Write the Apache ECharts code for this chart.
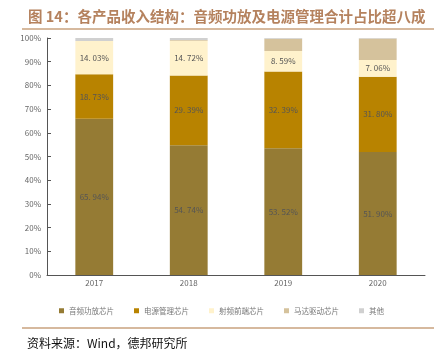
<!DOCTYPE html>
<html><head><meta charset="utf-8">
<script src="https://cdn.jsdelivr.net/npm/echarts@6/dist/echarts.min.js"></script>
<style>html,body{margin:0;padding:0;background:#fff}#c{width:443px;height:358px}</style>
</head><body><div id="c"></div>
<script>
const categories = ['2017', '2018', '2019', '2020'];
const audioAmp = [65.94, 54.74, 53.52, 51.90];
const powerMgmt = [18.73, 29.39, 32.39, 31.80];
const rfFront = [14.03, 14.72, 8.59, 7.06];
const motorDrv = [0.0, 0.3, 5.2, 9.0];
const others = [1.3, 0.85, 0.3, 0.24];
const yTicks = [0, 10, 20, 30, 40, 50, 60, 70, 80, 90, 100];

const names = ['音频功放芯片', '电源管理芯片', '射频前端芯片', '马达驱动芯片', '其他'];
const colors = ['#957B34', '#B88300', '#FFF2CC', '#D5C29C', '#D0D0D0'];
const datas = [audioAmp, powerMgmt, rfFront, motorDrv, others];
const showLabel = [true, true, true, false, false];

const chart = echarts.init(document.getElementById('c'), null, {renderer: 'canvas'});
chart.setOption({
  animation: false,
  textStyle: {fontFamily: '"Noto Sans CJK SC", sans-serif'},
  title: [{
    text: '图 14：各产品收入结构：音频功放及电源管理合计占比超八成',
    left: 23, top: 4,
    textStyle: {fontSize: 14.5, fontWeight: 'bold', color: '#B5825E', fontFamily: '"Noto Sans CJK SC", sans-serif'}
  }, {
    text: '资料来源：Wind，德邦研究所',
    left: 22, top: 332,
    textStyle: {fontSize: 12, fontWeight: 'normal', color: '#111', fontFamily: '"Noto Sans CJK SC", sans-serif'}
  }],
  graphic: [
    {type: 'line', shape: {x1: 22, y1: 29, x2: 434, y2: 29}, style: {stroke: '#C9A27E', lineWidth: 1.5}},
    {type: 'line', shape: {x1: 22, y1: 328, x2: 434, y2: 328}, style: {stroke: '#C9A27E', lineWidth: 1.5}}
  ],
  legend: {
    top: 302, left: 'center',
    itemWidth: 5, itemHeight: 5, itemGap: 20, icon: 'rect',
    textStyle: {fontSize: 7.5, color: '#777'},
    data: names
  },
  grid: {left: 47, right: 18, top: 38, bottom: 83},
  xAxis: {
    type: 'category', data: categories,
    axisLine: {lineStyle: {color: '#555'}},
    axisTick: {inside: true, lineStyle: {color: '#333'}, length: 4},
    axisLabel: {fontSize: 8, color: '#666', margin: 4}
  },
  yAxis: {
    type: 'value', min: 0, max: 100, interval: 10,
    axisLine: {show: true, lineStyle: {color: '#555'}},
    axisTick: {show: true, inside: true, length: 4, lineStyle: {color: '#555'}},
    splitLine: {show: false},
    axisLabel: {fontSize: 8, color: '#666', margin: 6, formatter: v => yTicks.includes(v) ? v + '%' : ''}
  },
  series: names.map((n, i) => ({
    name: n, type: 'bar', stack: 'all', barWidth: '40%',
    data: datas[i],
    itemStyle: {color: colors[i]},
    label: {
      show: showLabel[i], position: 'inside', fontSize: 8, color: '#555',
      formatter: p => p.value.toFixed(2).replace('.', '. ') + '%'
    }
  }))
});
</script></body></html>
